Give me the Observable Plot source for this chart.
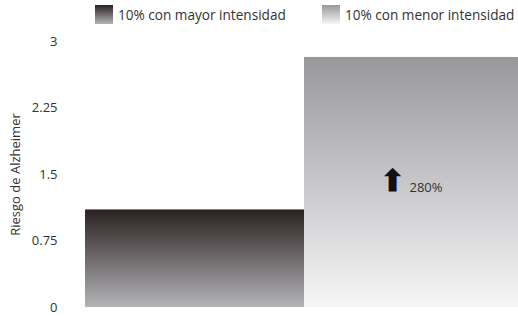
<!DOCTYPE html>
<html>
<head>
<meta charset="utf-8">
<script src="https://cdn.jsdelivr.net/npm/d3@7"></script>
<script src="https://cdn.jsdelivr.net/npm/@observablehq/plot@0.6"></script>
<style>
  html, body { margin: 0; padding: 0; background: #fff; }
  body { width: 518px; height: 316px; overflow: hidden; font-family: "Open Sans", sans-serif; }
  #legend { position: relative; height: 30px; width: 518px; font-size: 13.6px; color: #333; }
  .item { position: absolute; top: 5px; display: flex; align-items: center; }
  .sw { width: 18px; height: 19px; margin-right: 5px; }
  .lab { line-height: 19px; }
</style>
</head>
<body>
<div id="legend"></div>
<div id="chart"></div>
<script>
const categories = ["10% con mayor intensidad", "10% con menor intensidad"];
const values = [1.1, 2.82];
const yTicks = [0, 0.75, 1.5, 2.25, 3];
const annotationLabel = ["280%"];
const annotationValue = [1.35];

const gradients = [
  {id: "g0", top: "#2a2020", bottom: "#b4b4b8"},
  {id: "g1", top: "#98989c", bottom: "#f6f6f7"}
];

const data = categories.map((c, i) => ({cat: c, value: values[i]}));

// legend
const legend = document.getElementById("legend");
const legendX = [95, 322];
categories.forEach((c, i) => {
  const it = document.createElement("div");
  it.className = "item";
  it.style.left = legendX[i] + "px";
  const sw = document.createElement("div");
  sw.className = "sw";
  sw.style.background = `linear-gradient(to bottom, ${gradients[i].top}, ${gradients[i].bottom})`;
  const lab = document.createElement("span");
  lab.className = "lab";
  lab.textContent = c;
  it.appendChild(sw); it.appendChild(lab);
  legend.appendChild(it);
});

const chart = Plot.plot({
  width: 518,
  height: 286,
  marginTop: 11,
  marginBottom: 9,
  marginLeft: 85,
  marginRight: 0,
  style: {fontFamily: "'Open Sans', sans-serif", fontSize: "13px", color: "#333", background: "transparent", overflow: "visible"},
  x: {domain: categories, range: [85, 523], padding: 0, axis: null},
  y: {domain: [0, 3], ticks: yTicks, tickFormat: d => String(d)},
  marks: [
    Plot.axisY({ticks: yTicks, tickFormat: d => String(d), tickSize: 0, tickPadding: 28, label: "Riesgo de Alzheimer", labelArrow: "none", labelAnchor: "center", labelOffset: 75, fontSize: 13}),
    Plot.barY(data.filter((d, i) => i === 0), {x: "cat", y: "value", fill: "url(#g0)", inset: 0}),
    Plot.barY(data.filter((d, i) => i === 1), {x: "cat", y: "value", fill: "url(#g1)", inset: 0}),
    Plot.text(annotationLabel.map((l, i) => ({cat: categories[1], y: annotationValue[i]})), {x: "cat", y: "y", text: () => "⬆", dx: -22, dy: -6, fontSize: 30, fill: "#111", fontWeight: "bold"}),
    Plot.text(annotationLabel.map((l, i) => ({cat: categories[1], label: l, y: annotationValue[i]})), {x: "cat", y: "y", text: "label", dx: 12, dy: 0, fontSize: 13, fill: "#333"})
  ]
});

const svg = d3.select(chart);
const defs = svg.insert("defs", ":first-child");
gradients.forEach(g => {
  const lg = defs.append("linearGradient").attr("id", g.id).attr("x1", 0).attr("y1", 0).attr("x2", 0).attr("y2", 1);
  lg.append("stop").attr("offset", "0%").attr("stop-color", g.top);
  lg.append("stop").attr("offset", "100%").attr("stop-color", g.bottom);
});
document.getElementById("chart").appendChild(chart);
</script>
</body>
</html>
